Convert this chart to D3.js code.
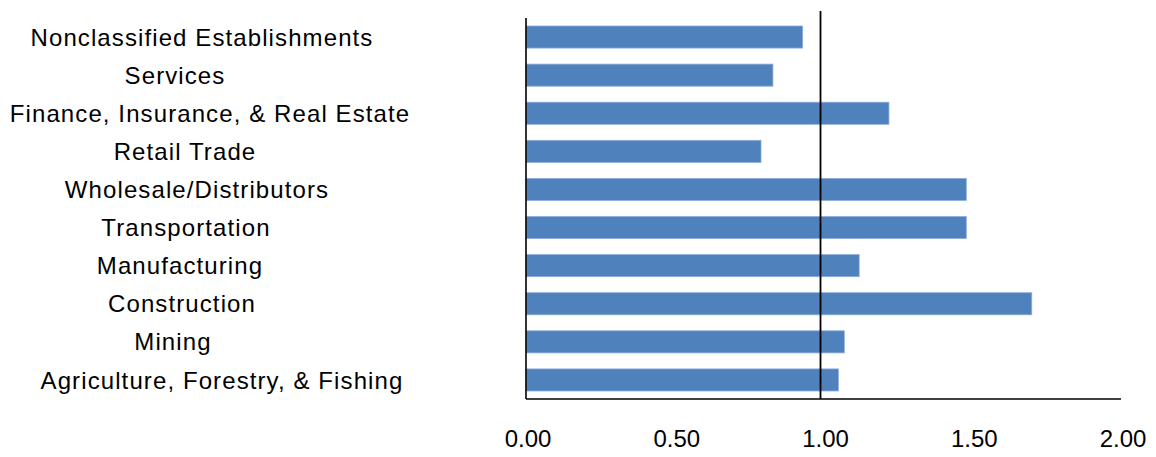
<!DOCTYPE html>
<html>
<head>
<meta charset="utf-8">
<script src="https://cdn.jsdelivr.net/npm/d3@7"></script>
<style>
    body { margin: 0; background: #fff; }
    text { font-family: "Liberation Sans", Arial, sans-serif; fill: #000; }
</style>
</head>
<body>
<svg></svg>
<script>
// categories top to bottom, as in the picture
var categories = ["Nonclassified Establishments", "Services", "Finance, Insurance, & Real Estate",
                  "Retail Trade", "Wholesale/Distributors", "Transportation", "Manufacturing",
                  "Construction", "Mining", "Agriculture, Forestry, & Fishing"];
var values = [0.93, 0.83, 1.22, 0.79, 1.48, 1.48, 1.12, 1.70, 1.07, 1.05];
var xTicks = [0, 0.5, 1, 1.5, 2];
var refValue = 1;

// label centres in the source drift a bit (trailing spaces); horizontal nudge per label
var labelNudge = [-20, -47, -12, -37, -25, -36, -42, -40, -49, 0];

var screen = {width: 1156, height: 457};
var plot = {left: 526, right: 1121, top: 18, bottom: 399};

var svg = d3.select("svg")
    .attr("width", screen.width)
    .attr("height", screen.height);

var xScale = d3.scaleLinear()
    .domain([0, 2])
    .range([plot.left, plot.right]);

var yScale = d3.scaleBand()
    .domain(categories)
    .range([plot.top, plot.bottom])
    .paddingInner(0.42)
    .paddingOuter(0.21);

// bars
svg.append("g")
    .selectAll("rect")
    .data(values)
    .enter()
    .append("rect")
    .attr("x", xScale(0))
    .attr("y", function(d, i){ return yScale(categories[i]); })
    .attr("width", function(d){ return xScale(d) - xScale(0); })
    .attr("height", yScale.bandwidth())
    .attr("fill", "#4f81bd")
    .attr("stroke", "#8eaedb")
    .attr("stroke-width", 0.8);

// axis lines
svg.append("line")
    .attr("x1", xScale(0)).attr("x2", xScale(0))
    .attr("y1", plot.top).attr("y2", plot.bottom)
    .attr("stroke", "#000").attr("stroke-width", 1.6);

svg.append("line")
    .attr("x1", xScale(0)).attr("x2", xScale(2))
    .attr("y1", plot.bottom).attr("y2", plot.bottom)
    .attr("stroke", "#000").attr("stroke-width", 1.4);

// reference line at 1.00
svg.append("line")
    .attr("x1", xScale(refValue) - 3).attr("x2", xScale(refValue) - 3)
    .attr("y1", 11).attr("y2", plot.bottom)
    .attr("stroke", "#000").attr("stroke-width", 1.8);

// category labels
var labelCenter = 222;
svg.append("g")
    .selectAll("text")
    .data(categories)
    .enter()
    .append("text")
    .attr("x", function(d, i){ return labelCenter + labelNudge[i]; })
    .attr("y", function(d){ return yScale(d) + yScale.bandwidth() / 2; })
    .attr("dy", "0.36em")
    .attr("text-anchor", "middle")
    .attr("font-size", 24)
    .attr("letter-spacing", 1.1)
    .text(function(d){ return d; });

// x tick labels
svg.append("g")
    .selectAll("text")
    .data(xTicks)
    .enter()
    .append("text")
    .attr("x", function(d){ return xScale(d) + 2; })
    .attr("y", 447)
    .attr("text-anchor", "middle")
    .attr("font-size", 24)
    .text(function(d){ return d3.format(".2f")(d); });
</script>
</body>
</html>
